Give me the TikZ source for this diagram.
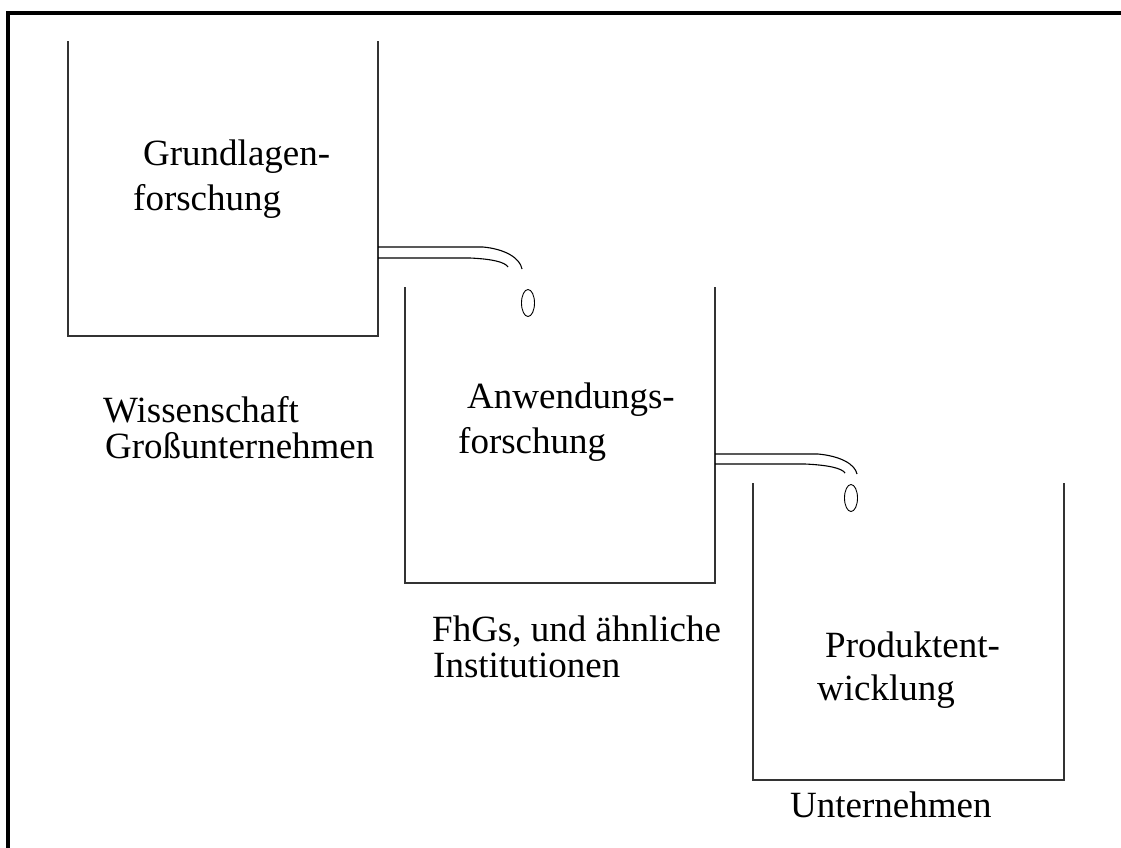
\documentclass[tikz,border=0pt]{standalone}
\usepackage{fontspec}
\setmainfont{Liberation Serif}
\usetikzlibrary{shapes.geometric}
\begin{document}
\begin{tikzpicture}[x=1pt,y=-1pt,
  wall/.style={line width=1.4pt, draw=black!80},
  pipe/.style={line width=1.1pt},
  drop/.style={draw, line width=0.9pt, ellipse, minimum width=13pt, minimum height=27pt, inner sep=0pt},
  lbl/.style={font=\fontsize{37}{44}\selectfont, inner sep=0pt, anchor=base west},
]
\useasboundingbox (0,0) rectangle (1121,847);
\fill[white] (0,0) rectangle (1121,847);
\begin{scope}
\clip (0,0) rectangle (1121,847);
% outer frame, running off the page on the right and bottom
\draw[line width=3.2pt] (8,870) -- (8,13) -- (1140,13);
\end{scope}

% open-top tanks
\coordinate (t1a) at (68,41);   \coordinate (t1b) at (378,41);
\coordinate (t2a) at (405,287); \coordinate (t2b) at (715,287);
\coordinate (t3a) at (753,483); \coordinate (t3b) at (1064,483);
\draw[wall] (t1a) -- (68,336) -- (378,336) -- (t1b);
\draw[wall] (t2a) -- (405,583) -- (715,583) -- (t2b);
\draw[wall] (t3a) -- (753,780) -- (1064,780) -- (t3b);

% outlet pipe of the first tank and its drop
\coordinate (p1u) at (378,247);
\coordinate (p1l) at (378,258);
\node[drop] (d1) at (528,303) {};
\draw[pipe] (p1u) -- (483,247) .. controls (505,249) and (520,258) .. (522,269);
\draw[pipe] (p1l) -- (470,258) .. controls (492,259) and (505,262) .. (508,267);

% outlet pipe of the second tank and its drop
\coordinate (p2u) at (715,454);
\coordinate (p2l) at (715,464);
\node[drop] (d2) at (851,498) {};
\draw[pipe] (p2u) -- (818,454) .. controls (840,456) and (855,464) .. (857,474);
\draw[pipe] (p2l) -- (805,464) .. controls (827,465) and (842,468) .. (845,473);

% labels
\node[lbl] (g1) at (143,165) {Grundlagen-};
\node[lbl] (g2) at (133,210) {forschung};
\node[lbl] (w1) at (103,422) {Wissenschaft};
\node[lbl] (w2) at (105,458) {Großunternehmen};
\node[lbl] (a1) at (467,408) {Anwendungs-};
\node[lbl] (a2) at (458,453) {forschung};
\node[lbl] (f1) at (432,641) {FhGs, und ähnliche};
\node[lbl] (f2) at (433,677) {Institutionen};
\node[lbl] (p1) at (825,657) {Produktent-};
\node[lbl] (p2) at (817,700) {wicklung};
\node[lbl] (u1) at (790,817) {Unternehmen};
\end{tikzpicture}
\end{document}
